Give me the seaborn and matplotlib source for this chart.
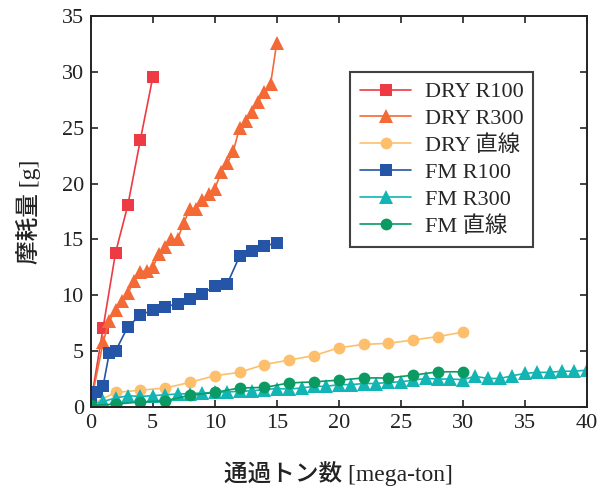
import matplotlib
matplotlib.use("Agg")
import matplotlib.pyplot as plt
import seaborn as sns
import pandas as pd

# ---- data ----
dry_r100_x = [0, 1, 2, 3, 4, 5]
dry_r100_y = [0.3, 7.1, 13.8, 18.1, 23.9, 29.5]

dry_r300_x = [0, 1.0, 1.5, 2.0, 2.5, 3.0, 3.5, 4.0, 4.5, 5.0, 5.5, 6.0, 6.5, 7.0, 7.5,
              8.0, 8.5, 9.0, 9.5, 10.0, 10.5, 11.0, 11.5, 12.0, 12.5, 13.0, 13.5, 14.0, 14.5, 15.0]
dry_r300_y = [0.3, 5.8, 7.7, 8.7, 9.5, 10.2, 11.3, 12.1, 12.2, 12.5, 13.7, 14.3, 15.0, 15.0, 16.5,
              17.7, 17.7, 18.5, 19.1, 19.5, 21.0, 21.8, 22.9, 25.0, 25.6, 26.4, 27.3, 28.2, 28.9, 32.6]

dry_line_x = [0, 2, 4, 6, 8, 10, 12, 14, 16, 18, 20, 22, 24, 26, 28, 30]
dry_line_y = [0.2, 1.3, 1.5, 1.7, 2.2, 2.8, 3.1, 3.8, 4.2, 4.6, 5.3, 5.6, 5.7, 6.0, 6.3, 6.7]

fm_r100_x = [0, 0.5, 1.0, 1.5, 2.0, 3, 4, 5, 6, 7, 8, 9, 10, 11, 12, 13, 14, 15]
fm_r100_y = [0.5, 1.3, 1.9, 4.85, 5.0, 7.2, 8.2, 8.7, 8.95, 9.25, 9.65, 10.15, 10.8, 11.0, 13.5, 13.95, 14.4, 14.7]

fm_r300_x = list(range(0, 41))
fm_r300_y = [0.2, 0.5, 0.8, 1.0, 0.95, 1.0, 1.1, 1.15, 1.2, 1.25, 1.3, 1.35, 1.4, 1.45, 1.55, 1.65,
             1.6, 1.7, 1.85, 1.85, 2.0, 2.0, 2.1, 2.1, 2.2, 2.25, 2.4, 2.55, 2.5, 2.5, 2.45,
             2.75, 2.55, 2.55, 2.8, 3.0, 3.1, 3.1, 3.2, 3.2, 3.3]

fm_line_x = [0, 2, 4, 6, 8, 10, 12, 14, 16, 18, 20, 22, 24, 26, 28, 30]
fm_line_y = [0.15, 0.25, 0.45, 0.55, 1.05, 1.3, 1.7, 1.75, 2.15, 2.25, 2.4, 2.6, 2.6, 2.85, 3.15, 3.15]

labels = ["DRY R100", "DRY R300", "DRY 直線", "FM R100", "FM R300", "FM 直線"]
xticks = [0, 5, 10, 15, 20, 25, 30, 35, 40]
yticks = [0, 5, 10, 15, 20, 25, 30, 35]

series = [
    (dry_r100_x, dry_r100_y, "#EE3A43", "s"),
    (dry_r300_x, dry_r300_y, "#F46A36", "^"),
    (dry_line_x, dry_line_y, "#FDBF6C", "o"),
    (fm_r100_x, fm_r100_y, "#2555A6", "s"),
    (fm_r300_x, fm_r300_y, "#12B5B4", "^"),
    (fm_line_x, fm_line_y, "#0B9A62", "o"),
]
msize = {"s": 8, "^": 9.5, "o": 8.5}

sns.set_style("ticks")
plt.rcParams["font.family"] = ["Liberation Serif", "Noto Sans CJK JP"]

fig = plt.figure(figsize=(6.06, 4.86), dpi=100)
ax = fig.add_axes([0.1497, 0.1626, 0.8187, 0.8045])

for (xs, ys, col, mk), lab in zip(series, labels):
    df = pd.DataFrame({"x": xs, "y": ys})
    sns.lineplot(data=df, x="x", y="y", ax=ax, color=col, marker=mk,
                 markersize=msize[mk], markeredgewidth=0,
                 linewidth=1.2, label=lab, sort=False, estimator=None)

ax.set_xlim(0, 40)
ax.set_ylim(0, 35)
ax.set_xticks(xticks)
ax.set_yticks(yticks)
ax.tick_params(direction="in", length=5, width=1.2, labelsize=16,
               top=True, right=True, colors="#222222", pad=5)
for sp in ax.spines.values():
    sp.set_linewidth(1.4)
    sp.set_color("#222222")

ax.set_xlabel("通過トン数 [mega-ton]", fontsize=17, labelpad=20, color="#222222",
              fontweight="medium")
ax.set_ylabel("摩耗量 [g]", fontsize=17, labelpad=15, color="#222222",
              fontweight="medium")

leg = ax.legend(loc="upper left", bbox_to_anchor=(0.523, 0.857), fontsize=16,
                frameon=True, fancybox=False, edgecolor="#111111",
                handlelength=2.3, labelspacing=0.28, borderpad=0.45,
                handletextpad=0.6, borderaxespad=0)
leg.get_frame().set_linewidth(1.5)

fig.savefig("out.png", dpi=100)
